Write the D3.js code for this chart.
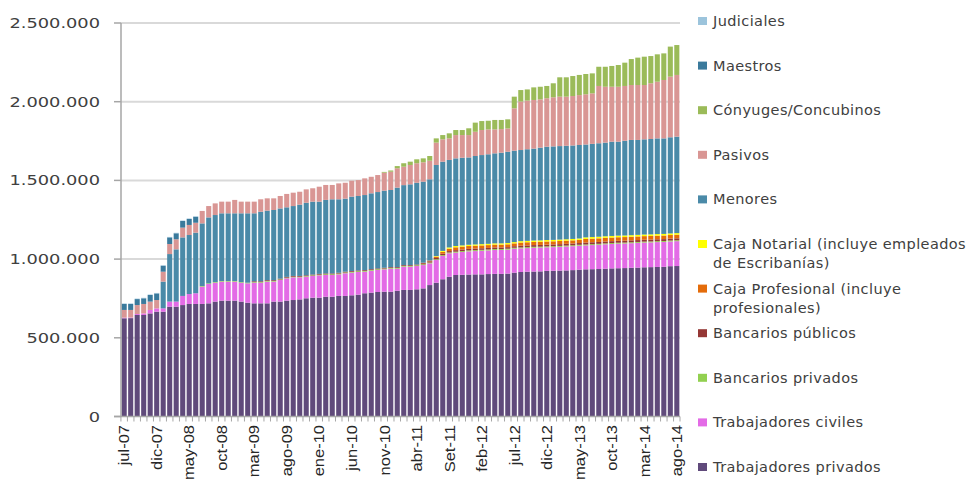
<!DOCTYPE html>
<html><head><meta charset="utf-8">
<script src="https://cdn.jsdelivr.net/npm/d3@7"></script>
<style>body{margin:0;background:#fff;} svg{display:block}</style>
</head><body>
<svg id="chart" width="975" height="482"></svg>
<script>
// Values in thousands of people
const months = [
 "jul-07","ago-07","set-07","oct-07","nov-07","dic-07",
 "ene-08","feb-08","mar-08","abr-08","may-08","jun-08","jul-08","ago-08","set-08","oct-08","nov-08","dic-08",
 "ene-09","feb-09","mar-09","abr-09","may-09","jun-09","jul-09","ago-09","set-09","oct-09","nov-09","dic-09",
 "ene-10","feb-10","mar-10","abr-10","may-10","jun-10","jul-10","ago-10","set-10","oct-10","nov-10","dic-10",
 "ene-11","feb-11","mar-11","abr-11","may-11","jun-11","jul-11","ago-11","Set-11","oct-11","nov-11","dic-11",
 "ene-12","feb-12","mar-12","abr-12","may-12","jun-12","jul-12","ago-12","set-12","oct-12","nov-12","dic-12",
 "ene-13","feb-13","mar-13","abr-13","may-13","jun-13","jul-13","ago-13","set-13","oct-13","nov-13","dic-13",
 "ene-14","feb-14","mar-14","abr-14","may-14","jun-14","jul-14","ago-14"];
const tickLabels = ["jul-07","dic-07","may-08","oct-08","mar-09","ago-09","ene-10","jun-10","nov-10","abr-11","Set-11","feb-12","jul-12","dic-12","may-13","oct-13","mar-14","ago-14"];
const yTicks = [0, 500, 1000, 1500, 2000, 2500];

const privados = [624,625,645,645,655,666,666,698,698,708,
 715,715,715,719,730,736,736,736,730,723,
 719,719,719,730,730,736,740,744,751,755,
 755,761,761,766,766,770,774,783,787,791,
 793,793,799,804,804,808,814,835,850,872,
 888,899,900,902,903,903,905,906,906,908,
 914,918,920,921,922,925,926,927,928,930,
 933,935,936,937,939,941,942,943,945,946,
 948,949,950,951,955,956];
const civiles = [4,4,6,10,22,21,21,32,32,58,
 63,68,110,123,120,121,121,121,120,123,
 131,131,138,127,137,142,144,140,137,138,
 142,138,138,137,144,144,144,137,139,140,
 142,146,140,148,148,148,148,138,144,148,
 149,142,145,147,148,150,150,152,152,152,
 152,150,150,151,151,150,150,151,152,152,
 152,152,153,154,155,155,156,156,156,157,
 157,157,158,158,157,158];
const bancariosPrivados = [0,0,0,0,0,0,0,0,0,0,
 0,0,4,4,4,4,4,4,4,4,
 4,4,4,4,4,4,4,4,4,4,
 4,5,5,5,5,5,5,5,5,5,
 5,5,5,5,5,5,5,5,5,5,
 5,6,6,6,6,6,6,6,6,6,
 6,6,6,6,6,6,6,6,6,6,
 6,6,6,6,6,6,6,6,6,6,
 6,6,6,6,6,6];
const bancariosPublicos = [0,0,0,0,0,0,0,0,0,0,
 0,0,0,0,0,0,0,0,0,0,
 5,5,5,5,5,5,5,5,5,5,
 5,5,5,5,5,5,5,5,5,5,
 5,5,5,5,5,5,7,8,8,9,
 9,10,10,10,10,10,10,10,10,10,
 10,11,11,11,11,11,11,11,11,11,
 11,12,12,12,12,12,12,12,12,12,
 12,12,12,12,12,12];
const cajaProfesional = [0,0,0,0,0,0,0,0,0,0,
 0,0,0,0,0,0,0,0,0,0,
 0,0,0,0,0,0,0,0,0,0,
 0,0,0,0,0,0,0,0,0,0,
 0,0,0,0,0,0,3,5,8,12,
 15,18,18,18,18,18,18,18,18,18,
 18,20,20,20,20,20,20,20,20,20,
 20,23,23,23,23,23,23,23,23,23,
 23,23,23,23,23,23];
const cajaNotarial = [0,0,0,0,0,0,0,0,0,0,
 0,0,0,0,0,0,0,0,0,0,
 0,0,0,0,0,0,0,0,0,0,
 0,0,0,0,0,0,0,0,0,0,
 0,0,0,0,0,0,0,0,4,6,
 8,8,8,8,8,8,8,8,8,8,
 8,9,9,9,9,9,9,9,9,9,
 9,10,10,10,10,10,10,10,10,10,
 10,10,10,10,10,10];
const menores = [0,0,0,0,0,0,170,302,332,372,
 375,385,398,419,426,430,430,430,437,441,
 432,442,442,446,446,442,444,453,461,463,
 459,467,471,467,464,473,473,477,482,485,
 490,490,505,508,513,519,515,516,579,567,
 556,557,557,555,562,566,569,572,576,580,
 581,579,582,584,589,593,594,594,594,594,
 594,590,592,594,595,599,597,602,605,603,
 605,606,608,607,611,613];
const pasivos = [49,48,57,60,53,53,63,64,64,62,
 64,63,79,72,74,74,74,85,74,74,
 74,79,78,74,79,85,85,82,85,85,
 95,95,91,101,101,101,101,106,105,108,
 114,116,123,117,123,124,123,118,142,142,
 137,148,144,142,154,159,158,152,150,148,
 269,308,309,309,307,308,312,314,312,314,
 317,319,321,364,355,349,349,348,349,349,
 345,354,360,371,385,392];
const conyuges = [0,0,0,0,0,0,0,0,0,0,
 0,0,0,0,0,0,0,0,0,0,
 0,0,0,0,0,0,0,0,0,0,
 0,0,0,0,0,0,0,0,0,0,
 5,8,14,22,21,25,25,30,27,27,
 32,32,32,43,58,57,55,60,58,58,
 74,73,71,80,80,78,89,123,123,127,
 128,129,127,122,127,132,138,148,165,174,
 180,173,174,169,191,190];
const maestros = [38,38,38,36,42,42,38,42,38,42,
 38,38,0,0,0,0,0,0,0,0,
 0,0,0,0,0,0,0,0,0,0,
 0,0,0,0,0,0,0,0,0,0,
 0,0,0,0,0,0,0,0,0,0,
 0,0,0,0,0,0,0,0,0,0,
 0,0,0,0,0,0,0,0,0,0,
 0,0,0,0,0,0,0,0,0,0,
 0,0,0,0,0,0];
const judiciales = [3,3,3,3,3,3,3,3,3,3,
 3,3,0,0,0,0,0,0,0,0,
 0,0,0,0,0,0,0,0,0,0,
 0,0,0,0,0,0,0,0,0,0,
 0,0,0,0,0,0,0,0,0,0,
 0,0,0,0,0,0,0,0,0,0,
 0,0,0,0,0,0,0,0,0,0,
 0,0,0,0,0,0,0,0,0,0,
 0,0,0,0,0,0];

// stack order bottom -> top
const keys = ["Trabajadores privados","Trabajadores civiles","Bancarios privados","Bancarios públicos",
  "Caja Profesional (incluye profesionales)","Caja Notarial (incluye empleados de Escribanías)",
  "Menores","Pasivos","Cónyuges/Concubinos","Maestros","Judiciales"];
const seriesData = [privados, civiles, bancariosPrivados, bancariosPublicos, cajaProfesional, cajaNotarial,
  menores, pasivos, conyuges, maestros, judiciales];
const colors = ["#604a7b","#e36be6","#92d050","#953735","#e46c0a","#ffff00",
  "#4a8aa8","#d99694","#9bbb59","#3a7a9c","#9cc4dc"];
const legendLines = [
  ["Trabajadores privados"],["Trabajadores civiles"],["Bancarios privados"],["Bancarios públicos"],
  ["Caja Profesional (incluye","profesionales)"],["Caja Notarial (incluye empleados","de Escribanías)"],
  ["Menores"],["Pasivos"],["Cónyuges/Concubinos"],["Maestros"],["Judiciales"]];

const rows = months.map((m, i) => {
  const r = {month: m};
  keys.forEach((k, j) => r[k] = seriesData[j][i]);
  return r;
});
const stacked = d3.stack().keys(keys)(rows);

const svg = d3.select("#chart");
const pLeft = 121, pRight = 680, pTop = 23, pBottom = 416.5;
const x = d3.scaleBand().domain(months).range([pLeft, pRight]).paddingInner(0.22).paddingOuter(0.1);
const y = d3.scaleLinear().domain([0, 2500]).range([pBottom, pTop]);

// gridlines
svg.append("g").selectAll("line").data(yTicks.filter(d => d > 0)).join("line")
  .attr("x1", pLeft).attr("x2", pRight).attr("y1", d => y(d)).attr("y2", d => y(d))
  .attr("stroke", "#d9d9d9").attr("stroke-width", 2);

// bars
svg.append("g").selectAll("g").data(stacked).join("g")
  .attr("fill", (d, i) => colors[i])
  .selectAll("rect").data(d => d).join("rect")
  .attr("x", d => x(d.data.month))
  .attr("width", x.bandwidth())
  .attr("y", d => y(d[1]))
  .attr("height", d => Math.max(0, y(d[0]) - y(d[1])));

// y axis
svg.append("line").attr("x1", pLeft).attr("x2", pLeft).attr("y1", pTop).attr("y2", pBottom)
  .attr("stroke", "#a6a6a6").attr("stroke-width", 1.5);
svg.append("g").selectAll("line").data(yTicks).join("line")
  .attr("x1", pLeft - 7).attr("x2", pLeft).attr("y1", d => y(d)).attr("y2", d => y(d))
  .attr("stroke", "#a6a6a6").attr("stroke-width", 1.5);
const fmt = v => d3.format(",")(v * 1000).replace(/,/g, ".");
svg.append("g").selectAll("text").data(yTicks).join("text")
  .attr("transform", d => `translate(100,${y(d) + 5}) scale(1.27,1)`)
  .attr("text-anchor", "end")
  .attr("font-family", "DejaVu Sans").attr("font-size", 14).attr("fill", "#404040")
  .text(fmt);

// x axis
svg.append("line").attr("x1", pLeft - 7).attr("x2", pRight).attr("y1", pBottom).attr("y2", pBottom)
  .attr("stroke", "#a6a6a6").attr("stroke-width", 1.5);
const step = x.step();
const tickPos = d3.range(months.length + 1).map(i => i === months.length ? pRight : x(months[i]) - step * 0.11);
svg.append("g").selectAll("line").data(tickPos).join("line")
  .attr("x1", d => d).attr("x2", d => d).attr("y1", pBottom).attr("y2", pBottom + 5)
  .attr("stroke", "#a6a6a6").attr("stroke-width", 1);
svg.append("g").selectAll("text").data(tickLabels).join("text")
  .attr("transform", d => `translate(${x(d) + x.bandwidth() / 2},425) rotate(-90) scale(1.1,1)`)
  .attr("text-anchor", "end").attr("dy", "0.35em")
  .attr("font-family", "Liberation Sans").attr("font-size", 15).attr("fill", "#262626")
  .text(d => d);

// legend (reverse order)
const legendStart = 21, legendStep = 44.6;
const lg = svg.append("g");
const order = d3.range(keys.length).reverse();
order.forEach((k, idx) => {
  const cy = legendStart + idx * legendStep;
  lg.append("rect").attr("x", 698).attr("y", cy - 4).attr("width", 9).attr("height", 8).attr("fill", colors[k]);
  legendLines[k].forEach((line, li) => {
    lg.append("text").attr("x", 713).attr("y", cy + 5 + li * 19)
      .attr("font-family", "DejaVu Sans").attr("font-size", 14.5).attr("letter-spacing", 0.4)
      .attr("fill", "#404040").text(line);
  });
});
</script>
</body></html>
